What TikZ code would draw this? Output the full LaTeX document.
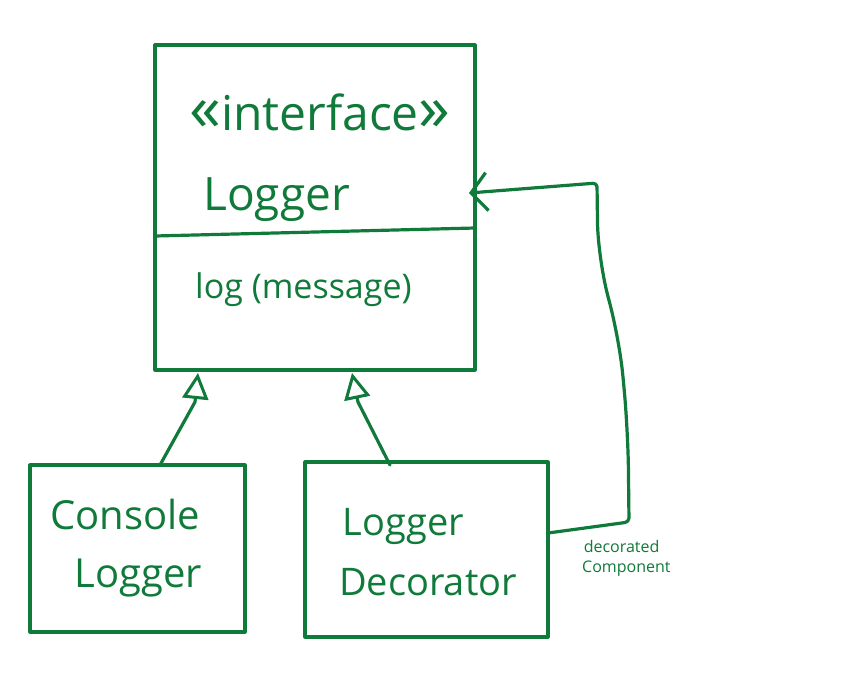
\documentclass[tikz,border=0pt]{standalone}
\usepackage{fontspec}
\setmainfont{Open Sans}
\usetikzlibrary{arrows.meta}
\definecolor{ink}{RGB}{16,122,58}
\tikzset{
  box/.style={draw=ink, line width=3.2pt, line join=round, inner sep=0pt},
  txt/.style={text=ink, inner sep=0pt, align=left},
  conn/.style={draw=ink, line width=3.2pt, line cap=round, line join=round},
  gen/.style={conn, -{Triangle[open, length=26pt, width=26pt, line width=3pt]}},
  assoc/.style={conn, -{Straight Barb[length=16pt, width=38pt, line width=3.2pt]}}
}
\begin{document}
\begin{tikzpicture}[x=1pt, y=-1pt]
\useasboundingbox[fill=white] (0,0) rectangle (860,675);
% main interface box
\node[box, minimum width=320pt, minimum height=325pt] (main) at (315,207.5) {};
\coordinate (divL) at (155,236);
\coordinate (divR) at (475,228);
\draw[conn] (divL) -- (divR);
\node[txt, font=\fontsize{48}{52}\selectfont] (stereo) at (320,112) {{\fontsize{64}{64}\selectfont«}interface{\fontsize{64}{64}\selectfont»}};
\node[txt, anchor=base west, font=\fontsize{46}{50}\selectfont] (name) at (203,210) {Logger};
\node[txt, anchor=base west, font=\fontsize{34}{38}\selectfont] (op) at (195,298) {log (message)};
% console logger
\node[box, minimum width=215pt, minimum height=167pt] (console) at (137.5,548.5) {};
\node[txt, font=\fontsize{40}{58}\selectfont, align=left] (ctext) at (126,548) {Console\\\hspace*{0.6em}Logger};
% logger decorator
\node[box, minimum width=243pt, minimum height=175pt] (deco) at (426.5,549.5) {};
\node[txt, font=\fontsize{38}{60}\selectfont] (dtext) at (428,552) {\hspace*{0.1em}Logger\\Decorator};
% generalizations
\coordinate (g1s) at (160,465);
\coordinate (g1m) at (195,402);
\coordinate (g1t) at (198,373);
\draw[gen] (g1s) -- (g1m) -- (g1t);
\coordinate (g2s) at (390,465);
\coordinate (g2m) at (358,402);
\coordinate (g2t) at (352,373);
\draw[gen] (g2s) -- (g2m) -- (g2t);
% association back to Logger
\coordinate (a0) at (548,533);
\coordinate (a1) at (629,522);
\coordinate (a2) at (628,430);
\coordinate (a3) at (619,335);
\coordinate (a4) at (598,262);
\coordinate (a5) at (597,183);
\coordinate (a6) at (469,193);
\draw[assoc, rounded corners=4pt] (a0) -- (a1) [rounded corners=40pt] -- (a2) -- (a3) -- (a4) [rounded corners=4pt] -- (a5) -- (a6);
\node[txt, anchor=north west, font=\fontsize{16}{20}\selectfont] (role) at (582,540) {\hspace*{0.1em}decorated\\Component};
\end{tikzpicture}
\end{document}
